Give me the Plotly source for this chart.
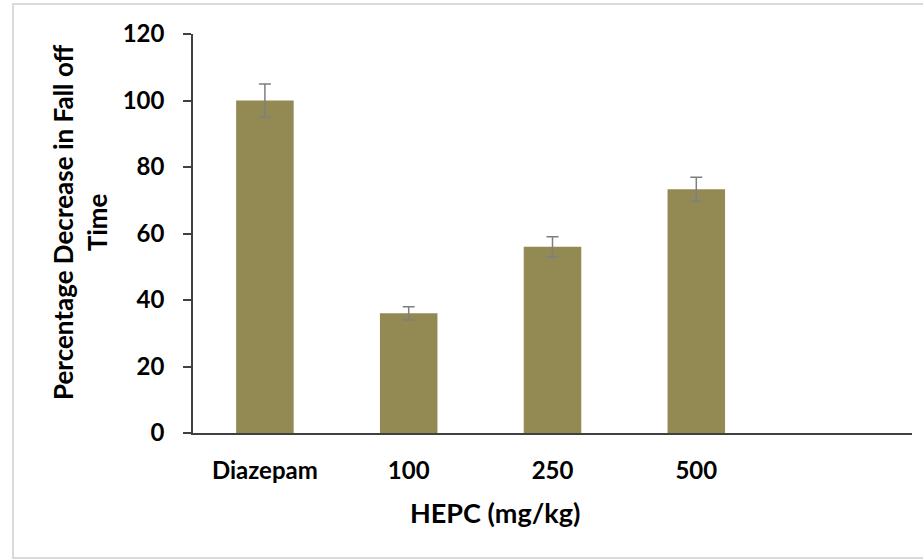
import plotly.graph_objects as go

categories = ["Diazepam", "100", "250", "500"]
values = [100, 36, 56, 73.3]
errors = [5, 2, 3, 3.6]
y_ticks = [0, 20, 40, 60, 80, 100, 120]

BAR = "#938953"
FONT = "Lato"

fig = go.Figure()
fig.add_trace(go.Bar(
    x=categories, y=values, width=0.4,
    marker=dict(color=BAR, line=dict(width=0)),
    error_y=dict(type="data", array=errors, visible=True,
                 color="#7f7f7f", thickness=1.5, width=6),
))

fig.update_layout(
    width=923, height=560,
    margin=dict(l=193, r=11, t=34, b=127),
    paper_bgcolor="white", plot_bgcolor="white",
    showlegend=False,
    font=dict(family=FONT, size=24, color="black", weight="bold"),
    xaxis=dict(type="category", categoryorder="array", categoryarray=categories,
               range=[-0.5, 4.5], showgrid=False, showline=True,
               linecolor="#404040", linewidth=1.5, ticks="",
               tickfont=dict(family=FONT, size=24, color="black", weight="bold"),
               ticklabelstandoff=15, zeroline=False, fixedrange=True),
    yaxis=dict(range=[0, 120], tickvals=y_ticks, showgrid=False, showline=True,
               linecolor="#404040", linewidth=1.5, ticks="outside", ticklen=8,
               tickcolor="#404040", tickwidth=1.5,
               tickfont=dict(family=FONT, size=24, color="black", weight="bold"),
               ticklabelstandoff=14, zeroline=False, fixedrange=True),
    shapes=[dict(type="rect", xref="paper", yref="paper",
                 x0=-0.2503, x1=1.05, y0=-0.3133, y1=1.0752,
                 line=dict(color="#d9d9d9", width=2), fillcolor="rgba(0,0,0,0)",
                 layer="below")],
    annotations=[
        dict(text="HEPC (mg/kg)", xref="paper", yref="paper", x=0.42, y=-0.2005,
             showarrow=False, xanchor="center", yanchor="middle",
             font=dict(family=FONT, size=27, color="black", weight="bold")),
        dict(text="Percentage Decrease in Fall off<br>Time", xref="paper", yref="paper",
             x=-0.157, y=0.529, textangle=-90, showarrow=False,
             xanchor="center", yanchor="middle",
             font=dict(family=FONT, size=26, color="black", weight="bold")),
    ],
)

fig.write_html("out.html", config={"displayModeBar": False},
               post_script="document.body.style.margin='0';")
